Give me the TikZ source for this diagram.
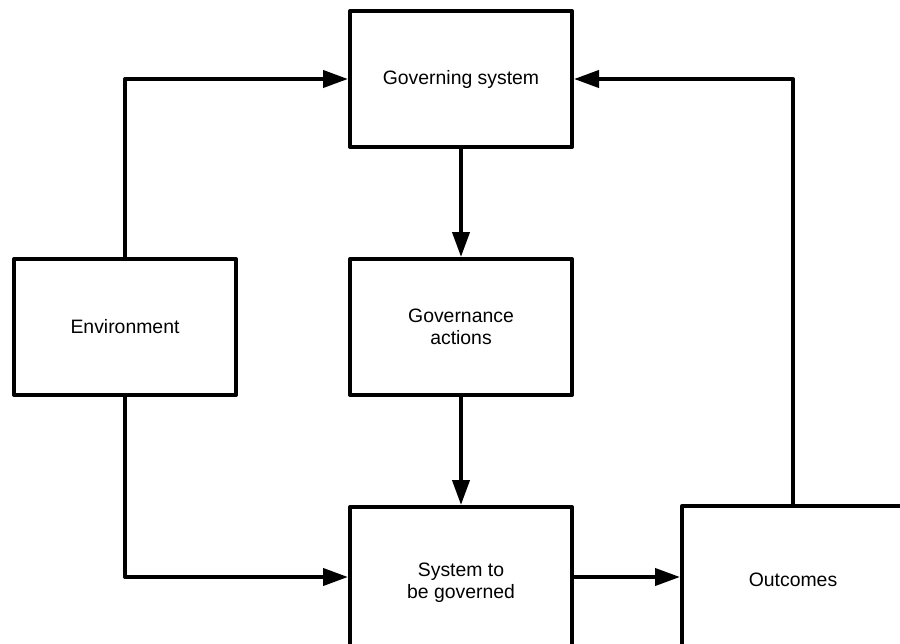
\documentclass[tikz,border=0pt]{standalone}
\usepackage{fontspec}
\setmainfont{Liberation Sans}
\usetikzlibrary{arrows.meta}
\begin{document}
\begin{tikzpicture}[x=0.5pt,y=-0.5pt,
  box/.style={draw,line width=2pt,line join=round,fill=white,minimum width=111pt,minimum height=68pt,
    align=center,font=\fontsize{9.7pt}{11pt}\selectfont,inner sep=0pt},
  arr/.style={line width=2pt,line join=round,-{Triangle[length=12.5pt,width=8.5pt]}}]
\useasboundingbox (0,0) rectangle (900,643);
\clip (0,0) rectangle (900,643);
\node[box] (gov) at (461,79) {Governing system};
\node[box] (env) at (125,327) {Environment};
\node[box] (act) at (461,327) {Governance\\actions};
\node[box,minimum height=76pt] (sys) at (461,583) {System to\\be governed};
\node[box,minimum height=74pt] (out) at (793,580) {Outcomes};
\draw[arr] (env.south) |- ([yshift=3pt]sys.west);
\draw[arr] (env.north) |- (gov.west);
\draw[arr] (gov.south) -- (act.north);
\draw[arr] (act.south) -- (sys.north);
\draw[arr] ([yshift=3pt]sys.east) -- ([yshift=1.5pt]out.west);
\draw[arr] (out.north) |- (gov.east);
\end{tikzpicture}
\end{document}
